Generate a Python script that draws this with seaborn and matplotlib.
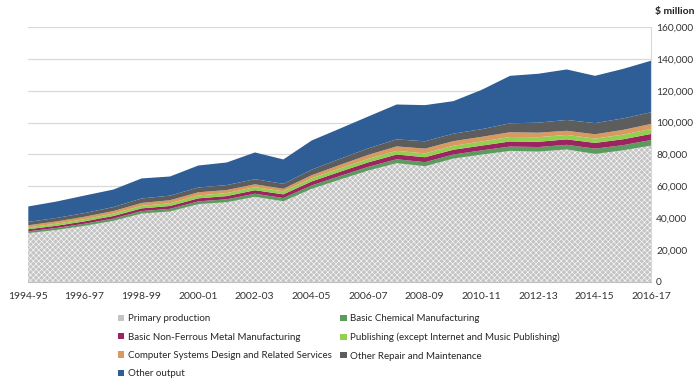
import numpy as np
import matplotlib
matplotlib.use("Agg")
import matplotlib.pyplot as plt
import seaborn as sns
from matplotlib.patches import Patch

# data ($ million)
years = ["1994-95", "1995-96", "1996-97", "1997-98", "1998-99", "1999-00",
         "2000-01", "2001-02", "2002-03", "2003-04", "2004-05", "2005-06",
         "2006-07", "2007-08", "2008-09", "2009-10", "2010-11", "2011-12",
         "2012-13", "2013-14", "2014-15", "2015-16", "2016-17"]

primary = [31000, 33000, 35600, 38700, 43300, 44600, 49200, 50400, 53800, 51000, 58800, 64600,
           70300, 74900, 73000, 77800, 80300, 82600, 82200, 83500, 80700, 83000, 86000]
chemical = [1100, 1200, 1300, 1400, 1500, 1600, 1700, 1800, 1900, 2000, 2100, 2200,
            2300, 2400, 2500, 2500, 2600, 2700, 2800, 2900, 3300, 3200, 3500]
non_ferrous = [1300, 1400, 1500, 1600, 1700, 1800, 1900, 2000, 2200, 2300, 2500, 2700,
               2800, 3000, 3100, 3000, 3000, 3200, 3300, 3400, 3600, 3700, 3800]
publishing = [1200, 1300, 1400, 1500, 1600, 1700, 1800, 1900, 1900, 1900, 2000, 2100,
              2200, 2300, 2400, 2500, 2600, 2800, 2900, 2800, 2700, 2900, 3100]
computer = [1300, 1400, 1500, 1600, 1800, 1900, 2000, 1900, 1800, 1600, 1900, 2200,
            2500, 2800, 3000, 2900, 2900, 3000, 2800, 2600, 2700, 3000, 3200]
repair = [2100, 2200, 2300, 2500, 2800, 2900, 3000, 3100, 3200, 3100, 3500, 3800,
          4100, 4400, 4600, 4700, 4800, 5600, 6300, 6800, 7000, 7200, 7300]
other = [9700, 10300, 11000, 11000, 12600, 12000, 13800, 14200, 16800, 15300, 18300, 19000,
         20000, 21900, 22700, 20400, 24700, 29800, 30700, 31700, 29700, 31100, 32400]

series_names = ["Primary production", "Basic Chemical Manufacturing",
                "Basic Non-Ferrous Metal Manufacturing",
                "Publishing (except Internet and Music Publishing)",
                "Computer Systems Design and Related Services",
                "Other Repair and Maintenance", "Other output"]
colors = ["#c4c4c4", "#5b9b5d", "#9c2463", "#92d050", "#d99a62", "#5d5d5d", "#2e5e95"]

sns.set_style("white")
plt.rcParams['font.family'] = ['Lato', 'DejaVu Sans']
plt.rcParams['hatch.color'] = '#e6e6e6'
plt.rcParams['hatch.linewidth'] = 0.4

fig = plt.figure(figsize=(6.95, 3.81), dpi=100)
ax = fig.add_axes([0.040, 0.260, 0.897, 0.669])

x = np.arange(len(years))
polys = ax.stackplot(x, primary, chemical, non_ferrous, publishing, computer, repair, other,
                     colors=colors, linewidth=0, zorder=2)
polys[0].set_hatch('xxxxxx')

ax.set_xlim(0, len(years) - 1)
ax.set_ylim(0, 160000)
ax.set_yticks(np.arange(0, 160001, 20000))
ax.yaxis.tick_right()
ax.set_yticklabels([f"{v:,}" for v in range(0, 160001, 20000)], fontsize=7.3, color='#333333')
ax.yaxis.grid(True, color='#d9d9d9', linewidth=0.9, zorder=0)
ax.set_axisbelow(True)
ax.tick_params(axis='y', length=0, pad=3.5)

ax.set_xticks(x)
ax.set_xticklabels([y if i % 2 == 0 else "" for i, y in enumerate(years)], fontsize=7.5, color='#333333')
ax.tick_params(axis='x', length=4, color='#bfbfbf', direction='out', pad=3)

for side in ['top', 'left']:
    ax.spines[side].set_visible(False)
ax.spines['bottom'].set_color('#bfbfbf')
ax.spines['right'].set_color('#d9d9d9')

fig.text(0.942, 0.962, "$ million", fontsize=7.5, fontweight='bold', color='#222222')

# legend: fill rows left-to-right like the original
handles = [Patch(facecolor=c, edgecolor='none') for c in colors]
handles[0].set_hatch('xxxxxx')
order = [0, 2, 4, 6, 1, 3, 5]
fig.legend([handles[i] for i in order], [series_names[i] for i in order],
           ncol=2, loc='upper left', bbox_to_anchor=(0.170, 0.175), frameon=False,
           fontsize=7, handlelength=0.65, handleheight=0.65, handletextpad=0.35,
           columnspacing=0.9, labelspacing=0.96, borderaxespad=0, borderpad=0)

fig.savefig("out.png", dpi=100)
